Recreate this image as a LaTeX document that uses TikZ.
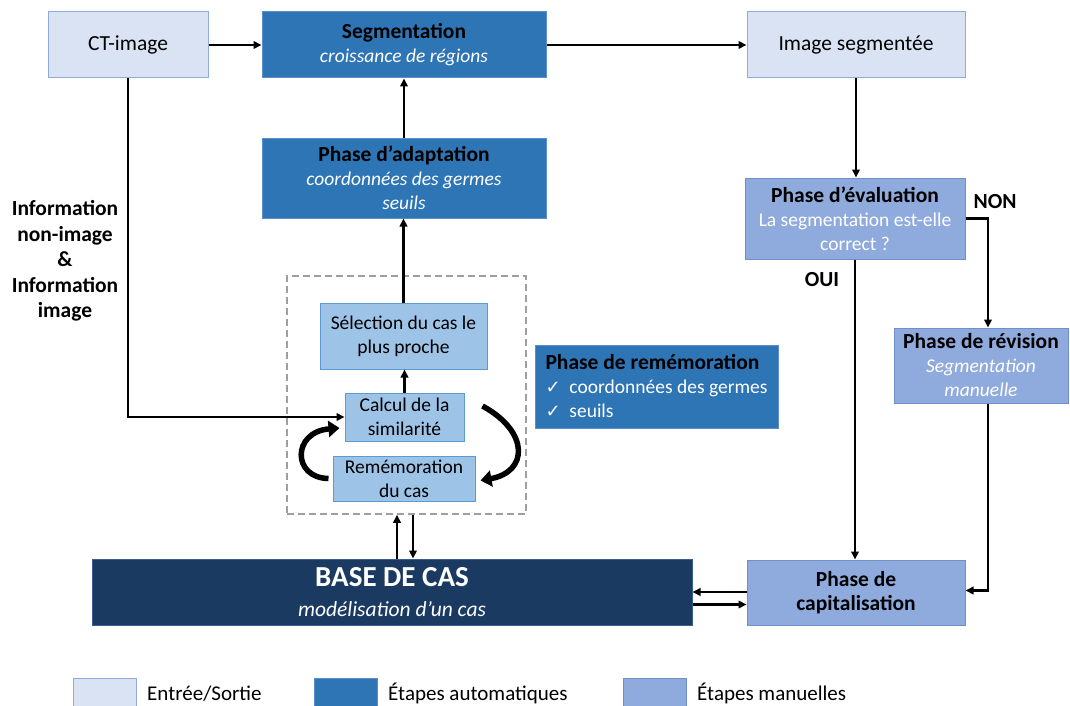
\documentclass[tikz,border=0pt]{standalone}
\usepackage{fontspec}
\setmainfont{Carlito}
\newfontfamily\dvfont{DejaVu Sans}
\usetikzlibrary{arrows.meta,calc}
\definecolor{ioFill}{HTML}{DAE3F3}
\definecolor{ioDraw}{HTML}{8FAADC}
\definecolor{autoFill}{HTML}{2E75B6}
\definecolor{autoDraw}{HTML}{5B8FC9}
\definecolor{manFill}{HTML}{8FAADC}
\definecolor{manDraw}{HTML}{6F8FC8}
\definecolor{innFill}{HTML}{9DC3E6}
\definecolor{innDraw}{HTML}{5B9BD5}
\definecolor{baseFill}{HTML}{1B3A62}
\definecolor{baseDraw}{HTML}{3A5F8F}
\newcommand\ttlt[1]{{\fontsize{21.5}{24}\selectfont\bfseries #1}}
\newcommand\chk{{\dvfont\fontsize{18}{24}\selectfont ✓}}
\begin{document}
\begin{tikzpicture}[x=1pt,y=-1pt,
  every node/.style={font=\fontsize{19.5}{24}\selectfont, inner sep=2pt},
  iobox/.style={draw=ioDraw, fill=ioFill, line width=1pt, align=center, text=black},
  autobox/.style={draw=autoDraw, fill=autoFill, line width=1pt, align=center, text=white},
  manbox/.style={draw=manDraw, fill=manFill, line width=1pt, align=center, text=white},
  innbox/.style={draw=innDraw, fill=innFill, line width=1pt, align=center, text=black},
  basebox/.style={draw=baseDraw, fill=baseFill, line width=1pt, align=center, text=white},
  arr/.style={line width=2.2pt, -{Triangle[length=8pt,width=7.5pt]}},
  curvarr/.style={line width=5.5pt, -{Triangle[length=11pt,width=16pt]}},
  lbl/.style={font=\fontsize{21.5}{25.5}\selectfont\bfseries, text=black, align=center},
  big/.style={font=\fontsize{21.5}{24}\selectfont},
  legtxt/.style={font=\fontsize{21}{24}\selectfont, anchor=base west, inner sep=0pt}
]
\useasboundingbox (0,0) rectangle (1070,706);
\clip (0,0) rectangle (1070,706);
\fill[white] (0,0) rectangle (1070,706);

% top row
\node[iobox, big, minimum width=160, minimum height=66] (ct) at (128,45) {CT-image};
\node[autobox, minimum width=284, minimum height=66] (seg) at (404,45)
  {\textcolor{black}{\ttlt{Segmentation}}\\ \itshape croissance de régions};
\node[iobox, big, minimum width=218, minimum height=66] (imgseg) at (856,45) {Image segmentée};

\node[autobox, minimum width=284, minimum height=80] (adapt) at (404,178)
  {\textcolor{black}{\ttlt{Phase d’adaptation}}\\ \itshape coordonnées des germes\\ \itshape seuils};

% dashed group
\node[draw=gray!75, dashed, dash pattern=on 7pt off 4pt, line width=1.5pt,
      minimum width=239, minimum height=238, inner sep=0pt] (dash) at (406.5,395) {};
\node[innbox, minimum width=167, minimum height=66] (sel) at (403.5,336)
  {Sélection du cas le\\ plus proche};
\node[innbox, minimum width=119, minimum height=48] (calc) at (404.5,417)
  {Calcul de la\\ similarité};
\node[innbox, minimum width=142, minimum height=45] (rem) at (404,478.5)
  {Remémoration\\ du cas};

\node[autobox, minimum width=243, minimum height=83, align=left] (remph) at (656.5,386.5)
  {\textcolor{black}{\ttlt{Phase de remémoration}}\\
   \chk\ \ coordonnées des germes\\
   \chk\ \ seuils};

% right column
\node[manbox, minimum width=220, minimum height=81] (eval) at (855,218.5)
  {\textcolor{black}{\ttlt{Phase d’évaluation}}\\ La segmentation est-elle\\ correct ?};
\node[manbox, minimum width=174, minimum height=75] (rev) at (981,365.5)
  {\textcolor{black}{\ttlt{Phase de révision}}\\ \itshape Segmentation\\ \itshape manuelle};
\node[manbox, minimum width=218, minimum height=65, text=black] (cap) at (856,592.5)
  {\ttlt{Phase de}\\ \ttlt{capitalisation}};

% base
\node[basebox, minimum width=600, minimum height=66, font=\fontsize{21.5}{30}\selectfont] (base) at (392,592)
  {{\fontsize{29}{30}\selectfont\bfseries BASE DE CAS}\\ \itshape modélisation d’un cas};

% labels
\node[lbl] (info) at (65,261)
  {Information\\ non-image\\ \&\\ Information\\ image};
\node[lbl] (non) at (995,202) {NON};
\node[lbl] (oui) at (822,280) {OUI};

% arrows
\draw[arr] (ct.east) -- (seg.west);
\draw[arr] (seg.east) -- (imgseg.west);
\draw[arr] (imgseg.south) -- (imgseg.south |- eval.north);
\draw[arr] (eval.east) -| ([xshift=7]rev.north);
\draw[arr] (eval.south) -- (eval.south |- cap.north);
\draw[arr] ([xshift=7]rev.south) |- ([yshift=2]cap.east);
\draw[arr] ([yshift=0.5]cap.west) -- ([yshift=0.5]cap.west -| base.east);
\draw[arr] ([yshift=-12.5]base.east) -- ([yshift=-12.5]base.east -| cap.west);
\draw[arr] (ct.south) |- (calc.west);
\draw[arr] (calc.north) -- (calc.north |- sel.south);
\draw[arr] (sel.north) -- (sel.north |- adapt.south);
\draw[arr] (adapt.north) -- (adapt.north |- seg.south);
\draw[arr] ([xshift=-9.5]dash.south |- base.north) -- ([xshift=-9.5]dash.south);
\draw[arr] ([xshift=6.5]dash.south) -- ([xshift=6.5]dash.south |- base.north);

% curved arrows
\draw[curvarr] ([xshift=-4]rem.west) .. controls (292,478) and (292,432) .. ([xshift=-5,yshift=-11]calc.west);
\draw[curvarr] ([xshift=18,yshift=11]calc.east) .. controls (530,432) and (528,472) .. ([xshift=5,yshift=-2]rem.east);

% legend
\node[iobox, minimum width=63, minimum height=40] (lg1) at (104.5,698) {};
\node[autobox, minimum width=63, minimum height=40] (lg2) at (345.5,698) {};
\node[manbox, minimum width=63, minimum height=40] (lg3) at (654.5,698) {};
\node[legtxt] (lt1) at (147,700) {Entrée/Sortie};
\node[legtxt] (lt2) at (388,700) {Étapes automatiques};
\node[legtxt] (lt3) at (697,700) {Étapes manuelles};
\end{tikzpicture}
\end{document}
